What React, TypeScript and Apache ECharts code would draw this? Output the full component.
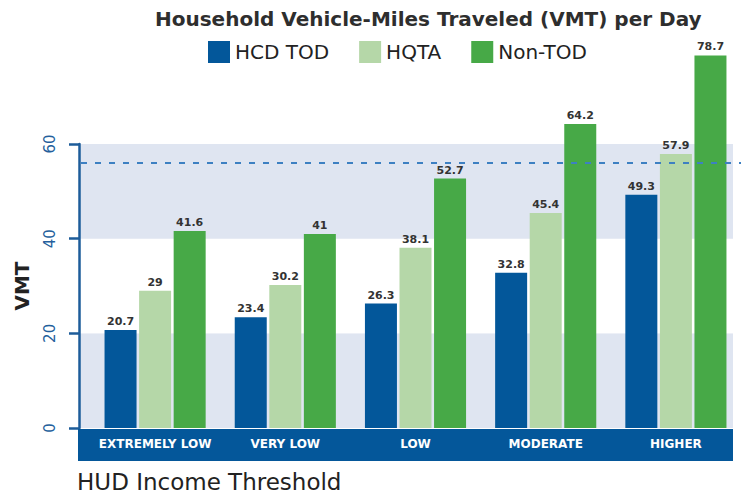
import React, { useEffect, useRef } from "react";
import * as echarts from "echarts";

const categories = ["EXTREMELY LOW", "VERY LOW", "LOW", "MODERATE", "HIGHER"];
const seriesNames = ["HCD TOD", "HQTA", "Non-TOD"];
const hcdTod = [20.7, 23.4, 26.3, 32.8, 49.3];
const hqta = [29, 30.2, 38.1, 45.4, 57.9];
const nonTod = [41.6, 41, 52.7, 64.2, 78.7];
const yMin = 0;
const yMax = 60;
const yInterval = 20;
const referenceLine = 56;

const colors = ["#03579a", "#b5d7a8", "#47a947"];
const FONT = "DejaVu Sans";

export default function App() {
  const ref = useRef<HTMLDivElement>(null);
  useEffect(() => {
    if (!ref.current) return;
    const chart = echarts.init(ref.current, undefined, { renderer: "svg" });
    const values = [hcdTod, hqta, nonTod];
    const hiddenY = (gi: number) => ({
      gridIndex: gi,
      type: "value",
      min: yMin,
      max: yMax,
      interval: yInterval,
      show: false,
    });
    chart.setOption({
      animation: false,
      textStyle: { fontFamily: FONT },
      title: [
        {
          text: "Household Vehicle-Miles Traveled (VMT) per Day",
          left: 155,
          top: 9,
          padding: 0,
          textStyle: { fontSize: 20, fontWeight: "bold", color: "#2e2e2e", fontFamily: FONT },
        },
        {
          text: "HUD Income Threshold",
          left: 77,
          top: 470,
          padding: 0,
          textStyle: { fontSize: 23, fontWeight: "normal", color: "#222", fontFamily: FONT },
        },
      ],
      legend: {
        data: seriesNames,
        left: 208,
        top: 41,
        padding: 0,
        icon: "rect",
        itemWidth: 22,
        itemHeight: 22,
        itemGap: 30,
        textStyle: { fontSize: 20, color: "#222", fontFamily: FONT },
      },
      grid: [
        { left: 79, top: 144, width: 654, height: 284 },
        { left: 90, top: 144, width: 658, height: 284 },
        { left: 81, top: 144, width: 660, height: 284 },
      ],
      graphic: [
        {
          type: "rect",
          z: 1,
          shape: { x: 78, y: 429, width: 655, height: 32 },
          style: { fill: "#04579a" },
        },
      ],
      xAxis: [
        {
          gridIndex: 0,
          type: "category",
          data: categories,
          show: false,
        },
        {
          gridIndex: 1,
          type: "category",
          data: categories,
          z: 5,
          axisLine: { show: false },
          axisTick: { show: false },
          axisLabel: {
            color: "#ffffff",
            fontWeight: "bold",
            fontSize: 12,
            margin: 10,
            interval: 0,
            fontFamily: FONT,
          },
        },
        { gridIndex: 2, type: "category", data: categories, show: false },
      ],
      yAxis: [
        {
          gridIndex: 0,
          type: "value",
          min: yMin,
          max: yMax,
          interval: yInterval,
          name: "VMT",
          nameLocation: "middle",
          nameGap: 47,
          nameTextStyle: { fontSize: 20, fontWeight: "bold", color: "#222", fontFamily: FONT },
          axisLine: { show: true, lineStyle: { color: "#1d5c9a", width: 2.5 } },
          axisTick: { show: true, length: 10, lineStyle: { color: "#1d5c9a", width: 2.5 } },
          axisLabel: { rotate: 90, margin: 22, fontSize: 15, color: "#245f9c", fontFamily: FONT },
          splitLine: { show: false },
          splitArea: { show: true, areaStyle: { color: ["#dfe5f1", "#ffffff"] } },
        },
        hiddenY(1),
        hiddenY(2),
      ],
      series: [
        ...seriesNames.map((name, i) => ({
          name,
          type: "bar",
          xAxisIndex: 1,
          yAxisIndex: 1,
          data: values[i],
          barWidth: 32,
          barGap: "8%",
          clip: false,
          itemStyle: { color: colors[i] },
          label: {
            show: true,
            position: "top",
            distance: 3,
            fontSize: 11,
            fontWeight: "bold",
            color: "#333",
            fontFamily: FONT,
          },
        })),
        {
          type: "line",
          xAxisIndex: 2,
          yAxisIndex: 2,
          data: categories.map(() => null),
          symbol: "none",
          markLine: {
            silent: true,
            symbol: ["none", "none"],
            label: { show: false },
            lineStyle: { color: "#3d80c2", width: 2, type: [6, 8] },
            data: [{ yAxis: referenceLine }],
          },
        },
      ],
    });
    return () => chart.dispose();
  }, []);
  return (
    <div
      ref={ref}
      style={{ position: "absolute", left: 0, top: 0, width: 741, height: 495 }}
    />
  );
}
